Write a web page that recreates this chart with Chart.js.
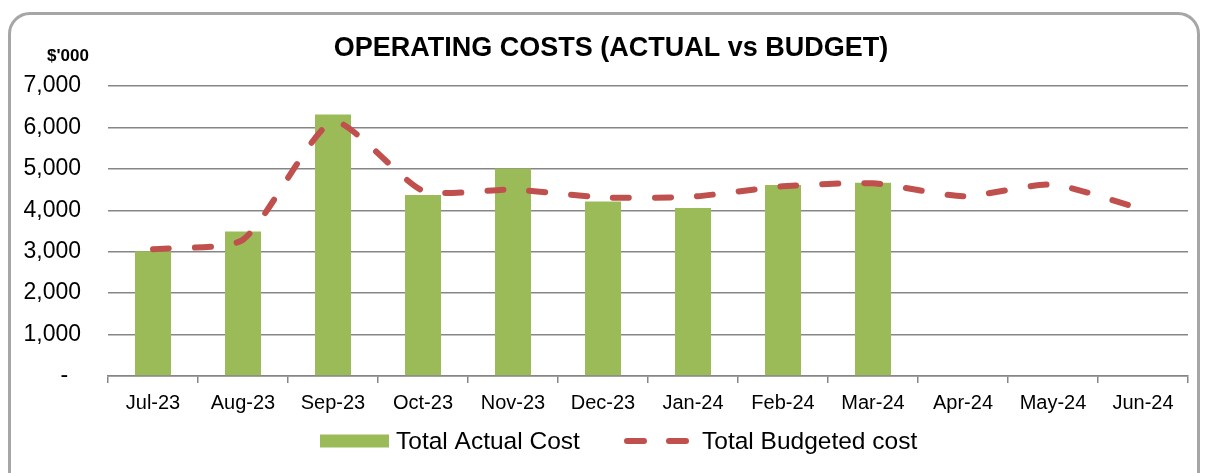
<!DOCTYPE html>
<html>
<head>
<meta charset="utf-8">
<script src="https://cdn.jsdelivr.net/npm/chart.js@4.4.0/dist/chart.umd.min.js"></script>
<style>
  html, body { margin: 0; padding: 0; background: #fff; }
  #wrap { position: relative; width: 1206px; height: 473px; overflow: hidden; }
  #frame { position: absolute; left: 8px; top: 12px; width: 1192px; height: 490px;
           border: 3px solid #a6a6a6; border-radius: 22px; box-sizing: border-box; pointer-events: none; }
  canvas { position: absolute; left: 0; top: 0; }
</style>
</head>
<body>
<div id="wrap">
  <canvas id="chartCanvas" width="1206" height="473"></canvas>
  <div id="frame"></div>
</div>
<script>
const months = ['Jul-23', 'Aug-23', 'Sep-23', 'Oct-23', 'Nov-23', 'Dec-23', 'Jan-24', 'Feb-24', 'Mar-24', 'Apr-24', 'May-24', 'Jun-24'];
const actualCost = [3010, 3490, 6310, 4370, 5010, 4215, 4055, 4610, 4665, null, null, null];
const budgetCost = [3060, 3290, 6140, 4470, 4500, 4310, 4330, 4580, 4650, 4340, 4620, 4020];
const yTicks = [0, 1000, 2000, 3000, 4000, 5000, 6000, 7000];

const FONT = '"Liberation Sans", Arial, sans-serif';
const green = '#9bbb59';
const red = '#c0504d';

// title, "$'000" unit label and the legend, placed like the excel original
const decorations = {
  id: 'decorations',
  afterDraw(chart) {
    const ctx = chart.ctx;
    const bars = chart.data.datasets[1];
    const line = chart.data.datasets[0];
    ctx.save();
    ctx.fillStyle = '#000';
    ctx.textBaseline = 'middle';

    ctx.font = 'bold 27px ' + FONT;
    ctx.textAlign = 'center';
    ctx.fillText('OPERATING COSTS (ACTUAL vs BUDGET)', 611, 49);

    ctx.font = 'bold 17px ' + FONT;
    ctx.fillText("$'000", 68, 56);

    // legend
    const ly = 441;
    ctx.textAlign = 'left';
    ctx.font = '24.5px ' + FONT;
    ctx.fillStyle = bars.backgroundColor;
    ctx.fillRect(320, ly - 6.5, 69, 13);
    ctx.fillStyle = '#000';
    ctx.fillText(bars.label, 396, ly + 1);

    ctx.strokeStyle = line.borderColor;
    ctx.lineWidth = line.borderWidth;
    ctx.lineCap = 'round';
    ctx.setLineDash([17, 25]);
    ctx.beginPath();
    ctx.moveTo(627, ly);
    ctx.lineTo(686, ly);
    ctx.stroke();
    ctx.setLineDash([]);
    ctx.fillText(line.label, 702, ly + 1);
    ctx.restore();
  }
};

const ctx = document.getElementById('chartCanvas').getContext('2d');
window.myChart = new Chart(ctx, {
  type: 'bar',
  data: {
    labels: months,
    datasets: [{
      type: 'line',
      label: 'Total Budgeted cost',
      data: budgetCost,
      borderColor: red,
      backgroundColor: red,
      borderWidth: 6,
      borderDash: [16, 26],
      borderCapStyle: 'round',
      tension: 0.2,
      pointRadius: 0,
      order: 0
    }, {
      label: 'Total Actual Cost',
      data: actualCost,
      backgroundColor: green,
      barPercentage: 0.4,
      categoryPercentage: 1,
      order: 1
    }]
  },
  options: {
    responsive: false,
    animation: false,
    layout: { padding: { left: 0, right: 18, top: 86, bottom: 57 } },
    plugins: {
      legend: { display: false },
      title: { display: false },
      tooltip: { enabled: false }
    },
    scales: {
      x: {
        afterFit(scale) { scale.height = 40; },
        grid: { drawOnChartArea: false, drawTicks: true, tickLength: 7, color: '#868686', lineWidth: 1.5 },
        border: { color: '#868686', width: 1.5 },
        ticks: { color: '#000', font: { family: FONT, size: 20 }, padding: 8, maxRotation: 0, autoSkip: false }
      },
      y: {
        min: 0,
        max: 7000,
        afterBuildTicks(scale) { scale.ticks = yTicks.map(v => ({ value: v })); },
        afterFit(scale) { scale.width = 108; },
        grid: { color: '#868686', lineWidth: 1.5, drawTicks: false },
        border: { display: false },
        ticks: {
          color: '#000',
          font: { family: FONT, size: 23 },
          padding: 27,
          callback: v => v === 0 ? '-  ' : v.toLocaleString('en-US')
        }
      }
    }
  },
  plugins: [decorations]
});
</script>
</body>
</html>
